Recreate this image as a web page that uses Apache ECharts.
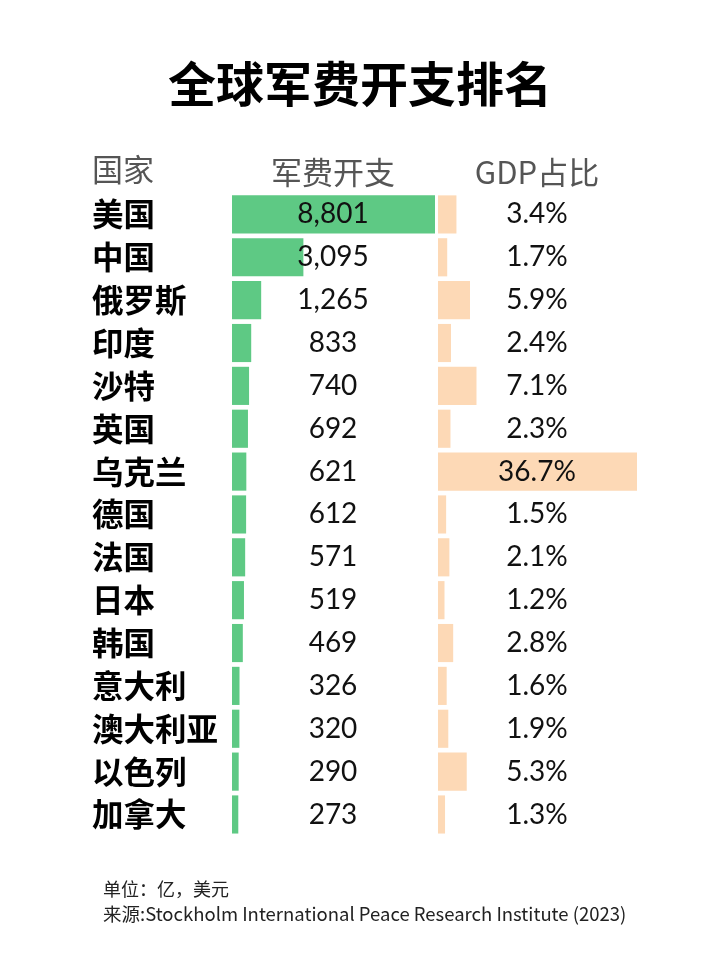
<!DOCTYPE html>
<html><head><meta charset="utf-8">
<script src="https://cdn.jsdelivr.net/npm/echarts@6/dist/echarts.min.js"></script>
<style>html,body{margin:0;padding:0;background:#fff}#c{width:720px;height:960px}</style>
</head><body><div id="c"></div>
<script>
const countries = ['美国','中国','俄罗斯','印度','沙特','英国','乌克兰','德国','法国','日本','韩国','意大利','澳大利亚','以色列','加拿大'];
const spending = [8801,3095,1265,833,740,692,621,612,571,519,469,326,320,290,273];
const gdpShare = [3.4,1.7,5.9,2.4,7.1,2.3,36.7,1.5,2.1,1.2,2.8,1.6,1.9,5.3,1.3];
const headers = ['国家','军费开支','GDP占比'];
const titleText = '全球军费开支排名';
const unitText = '单位：亿，美元';
const sourceText = '来源:Stockholm International Peace Research Institute (2023)';

const CJK = '"Noto Sans CJK SC","Noto Sans",sans-serif';
const NUM = 'Lato,"Noto Sans CJK SC",sans-serif';
const fmt = v => v.toLocaleString('en-US');

const chart = echarts.init(document.getElementById('c'), null, {renderer:'canvas'});
const rowTop = 193, rowH = 15*42.86;
chart.setOption({
  backgroundColor:'#fff',
  animation:false,
  title:{text:titleText,left:'center',top:55,textStyle:{fontFamily:CJK,fontSize:48,fontWeight:'bold',color:'#000'}},
  grid:[
    {left:232,width:203,top:rowTop,height:rowH},
    {left:438,width:199,top:rowTop,height:rowH}
  ],
  xAxis:[
    {gridIndex:0,type:'value',min:0,max:8801,show:false},
    {gridIndex:1,type:'value',min:0,max:36.7,show:false}
  ],
  yAxis:[
    {gridIndex:0,type:'category',data:countries,inverse:true,
     axisLine:{show:false},axisTick:{show:false},
     axisLabel:{margin:140,align:'left',fontFamily:CJK,fontSize:31.5,fontWeight:'bold',color:'#000'}},
    {gridIndex:1,type:'category',data:countries,inverse:true,show:false}
  ],
  series:[
    {type:'bar',xAxisIndex:0,yAxisIndex:0,data:spending,barCategoryGap:'11%',
     itemStyle:{color:'#5ec984'},
     label:{show:true,position:[101,'50%'],align:'center',verticalAlign:'middle',
       formatter:p=>fmt(p.value),fontFamily:NUM,fontSize:28,color:'#111'}},
    {type:'bar',xAxisIndex:1,yAxisIndex:1,data:gdpShare,barCategoryGap:'11%',
     itemStyle:{color:'#fdd9b6'},
     label:{show:true,position:[99,'50%'],align:'center',verticalAlign:'middle',
       formatter:p=>p.value.toFixed(1)+'%',fontFamily:NUM,fontSize:28,color:'#111'}}
  ],
  graphic:[
    {type:'text',left:92,top:154,style:{text:headers[0],font:'31px '+CJK,fill:'#555'}},
    {type:'text',x:333,y:172,style:{text:headers[1],font:'31px '+CJK,fill:'#555',textAlign:'center',textVerticalAlign:'middle'}},
    {type:'text',x:537,y:172,style:{text:headers[2],font:'31px '+CJK,fill:'#555',textAlign:'center',textVerticalAlign:'middle'}},
    {type:'text',left:103,top:880,style:{text:unitText,font:'18px '+CJK,fill:'#222'}},
    {type:'text',left:103,top:905,style:{text:sourceText,font:'18.5px '+CJK,fill:'#222'}}
  ]
});
</script></body></html>
